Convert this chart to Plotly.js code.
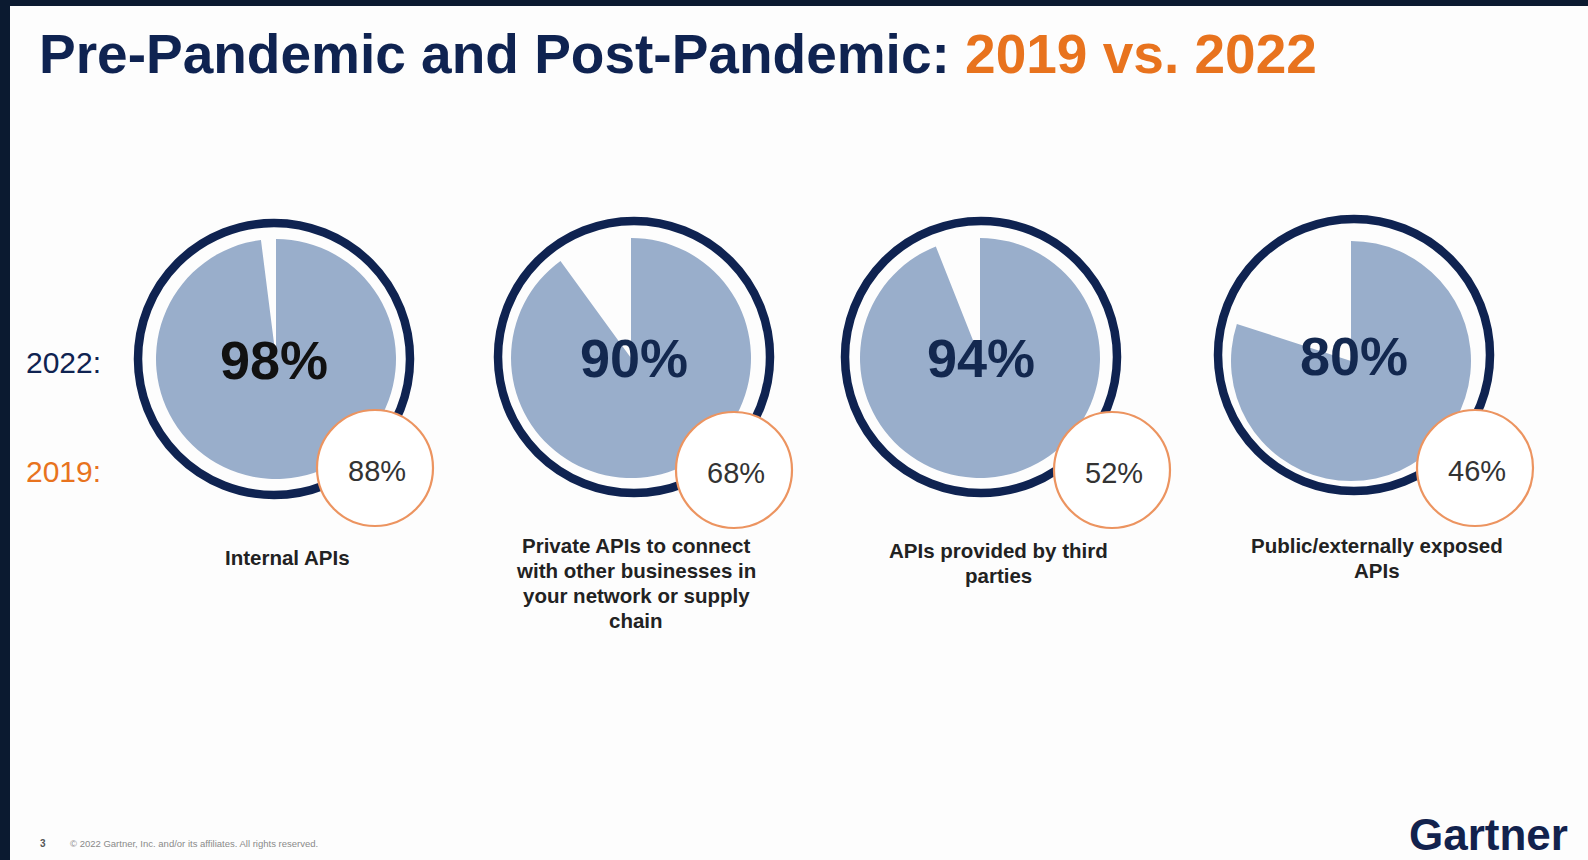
<!DOCTYPE html>
<html>
<head>
<meta charset="utf-8">
<script src="https://cdn.plot.ly/plotly-3.0.1.min.js"></script>
<style>
  html, body { margin: 0; padding: 0; background: #fdfdfd; }
  #chart { width: 1588px; height: 860px; }
</style>
</head>
<body>
<div id="chart"></div>
<script>
// ---- data ----
const categories = [
  "Internal APIs",
  "Private APIs to connect<br>with other businesses in<br>your network or supply<br>chain",
  "APIs provided by third<br>parties",
  "Public/externally exposed<br>APIs"
];
const values2022 = [98, 90, 94, 80];
const values2019 = [88, 68, 52, 46];
const yearLabels = ["2022:", "2019:"];
const titleMain = "Pre-Pandemic and Post-Pandemic: ";
const titleAccent = "2019 vs. 2022";

// ---- layout geometry (pixels) ----
const W = 1588, H = 860;
const fx = x => x / W;
const fy = y => 1 - y / H;

const ringCX = [274, 634, 981, 1354];
const ringCY = [359, 357, 357, 355];
const ringR = 136;
const pieCX = [276, 631, 980, 1351];
const pieCY = [359, 358, 358, 361];
const pieR = 120;
const smallCX = [375, 734, 1112, 1475];
const smallCY = [468, 470, 470, 468];
const smallR = 58;
const labelCX = [287, 636, 998, 1377];
const labelFirst = [557, 545, 550, 545];
const lineGap = 25;

const NAVY = "#0f2351";
const ORANGE = "#e8731e";
const PIEFILL = "#99aecb";

const traces = values2022.map((v, i) => ({
  type: "pie",
  values: [v, 100 - v],
  labels: ["yes", "no"],
  sort: false,
  direction: "clockwise",
  rotation: 0,
  textinfo: "none",
  hoverinfo: "none",
  showlegend: false,
  marker: { colors: [PIEFILL, "rgba(0,0,0,0)"], line: { width: 0 } },
  domain: {
    x: [fx(pieCX[i] - pieR), fx(pieCX[i] + pieR)],
    y: [fy(pieCY[i] + pieR), fy(pieCY[i] - pieR)]
  }
}));

const shapes = [
  // dark slide frame
  { type: "rect", xref: "paper", yref: "paper", x0: 0, x1: 1, y0: fy(6), y1: 1, fillcolor: "#0b1a30", line: { width: 0 }, layer: "above" },
  { type: "rect", xref: "paper", yref: "paper", x0: 0, x1: fx(10), y0: 0, y1: 1, fillcolor: "#0b1a30", line: { width: 0 }, layer: "above" }
];
ringCX.forEach((cx, i) => {
  shapes.push({
    type: "circle", xref: "paper", yref: "paper", layer: "above",
    x0: fx(cx - ringR), x1: fx(cx + ringR), y0: fy(ringCY[i] + ringR), y1: fy(ringCY[i] - ringR),
    line: { color: NAVY, width: 8.5 }, fillcolor: "rgba(0,0,0,0)"
  });
});
smallCX.forEach((cx, i) => {
  shapes.push({
    type: "circle", xref: "paper", yref: "paper", layer: "above",
    x0: fx(cx - smallR), x1: fx(cx + smallR), y0: fy(smallCY[i] + smallR), y1: fy(smallCY[i] - smallR),
    line: { color: "#ec9460", width: 2.2 }, fillcolor: "#ffffff"
  });
});

const FONT = "Liberation Sans, Arial, sans-serif";
const annotations = [];
// title
annotations.push({
  xref: "paper", yref: "paper", x: fx(37), y: fy(54), xanchor: "left", yanchor: "middle",
  showarrow: false,
  text: "<b>" + titleMain + "<span style='color:" + ORANGE + "'>" + titleAccent + "</span></b>",
  font: { family: FONT, size: 55, color: NAVY }
});
// year labels
annotations.push({
  xref: "paper", yref: "paper", x: fx(24), y: fy(362), xanchor: "left", yanchor: "middle",
  showarrow: false, text: yearLabels[0], font: { family: FONT, size: 30, color: NAVY }
});
annotations.push({
  xref: "paper", yref: "paper", x: fx(24), y: fy(471), xanchor: "left", yanchor: "middle",
  showarrow: false, text: yearLabels[1], font: { family: FONT, size: 30, color: ORANGE }
});
values2022.forEach((v, i) => {
  annotations.push({
    xref: "paper", yref: "paper", x: fx(ringCX[i]), y: fy(ringCY[i] + 1), xanchor: "center", yanchor: "middle",
    showarrow: false, text: "<b>" + v + "%</b>",
    font: { family: FONT, size: 54, color: i === 0 ? "#111111" : "#13284f" }
  });
  annotations.push({
    xref: "paper", yref: "paper", x: fx(smallCX[i] + 2), y: fy(smallCY[i] + 3), xanchor: "center", yanchor: "middle",
    showarrow: false, text: values2019[i] + "%",
    font: { family: FONT, size: 29, color: "#333333" }
  });
  categories[i].split("<br>").forEach((line, k) => {
    annotations.push({
      xref: "paper", yref: "paper", x: fx(labelCX[i]), y: fy(labelFirst[i] + k * lineGap), xanchor: "center", yanchor: "middle",
      showarrow: false, text: "<b>" + line + "</b>",
      font: { family: FONT, size: 20.5, color: "#222222" }
    });
  });
});
// footer
annotations.push({
  xref: "paper", yref: "paper", x: fx(38), y: fy(843), xanchor: "left", yanchor: "middle",
  showarrow: false, text: "<b>3</b>", font: { family: FONT, size: 10, color: "#555555" }
});
annotations.push({
  xref: "paper", yref: "paper", x: fx(68), y: fy(843), xanchor: "left", yanchor: "middle",
  showarrow: false, text: "© 2022 Gartner, Inc. and/or its affiliates. All rights reserved.",
  font: { family: FONT, size: 9.5, color: "#8a8a8a" }
});
annotations.push({
  xref: "paper", yref: "paper", x: fx(1570), y: fy(834), xanchor: "right", yanchor: "middle",
  showarrow: false, text: "<b>Gartner</b>", font: { family: FONT, size: 44, color: "#12224d" }
});

const layout = {
  width: W, height: H,
  margin: { l: 0, r: 0, t: 0, b: 0 },
  paper_bgcolor: "#fdfdfd",
  plot_bgcolor: "#fdfdfd",
  showlegend: false,
  shapes: shapes,
  annotations: annotations
};

Plotly.newPlot("chart", traces, layout, { displayModeBar: false, staticPlot: true });
</script>
</body>
</html>
